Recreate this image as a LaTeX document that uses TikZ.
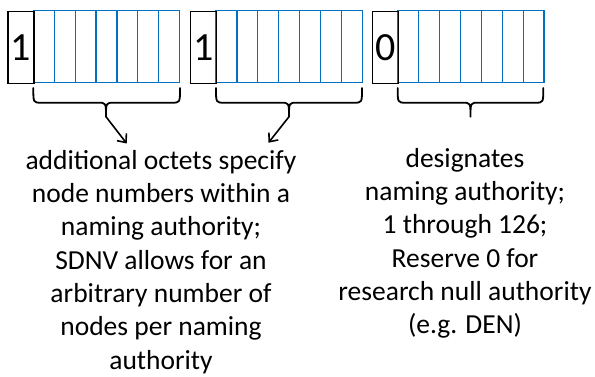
\documentclass[tikz,border=0pt]{standalone}
\usepackage{fontspec}
\setmainfont{Carlito}
\usetikzlibrary{arrows.meta}
\definecolor{cellblue}{HTML}{0070C0}
\tikzset{
  flagbox/.style={draw=black,line width=1.3pt,minimum width=26pt,minimum height=72pt,inner sep=0pt,anchor=north west,font=\fontsize{40}{42}\selectfont},
  cell/.style={draw=cellblue,line width=1.2pt},
  bracepath/.style={draw=black,line width=1.8pt,line join=round,line cap=round},
  pointer/.style={draw=black,line width=1.6pt,-{Straight Barb[length=7pt,width=12pt,line width=1.6pt]}},
  note/.style={align=center,inner sep=0pt,anchor=north,font=\fontsize{27.5}{33.3}\selectfont}
}
\newcommand{\mybrace}[4]{% x1, x2, mid, name
  \draw[bracepath] (#1,88) .. controls (#1,102.7) .. (#1+8,102.7) -- (#3-8,102.7)
     .. controls (#3,102.7) .. (#3,116.7) coordinate (#4)
     .. controls (#3,102.7) .. (#3+8,102.7) -- (#2-8,102.7)
     .. controls (#2,102.7) .. (#2,88);
}
\begin{document}
\begin{tikzpicture}[x=1pt,y=-1pt]
\useasboundingbox (0,0) rectangle (595,376);
% octet cells
\foreach \x in {33.3,190+26,371.7+26}{
  \foreach \i in {0,...,6}{
    \draw[cell] (\x+\i*20.9,10.7) rectangle (\x+\i*20.9+20.9,82.7);
  }
}
\node[flagbox] (f1) at (7.3,10.7) {1};
\node[flagbox] (f2) at (190,10.7) {1};
\node[flagbox] (f3) at (371.7,10.7) {0};
% braces
\mybrace{33.3}{180}{106}{b1}
\mybrace{216}{362}{289}{b2}
\mybrace{397.7}{543.3}{470.5}{b3}
% texts
\node[note] (t1) at (161,150) {additional octets specify\\node numbers within a\\naming authority;\\SDNV allows for an\\arbitrary number of\\nodes per naming\\authority};
\node[note] (t2) at (465,148) {designates\\naming authority;\\1 through 126;\\Reserve 0 for\\research null authority\\(e.g. DEN)};
\coordinate (a1) at (126.7,143.5);
\coordinate (a2) at (268.5,142.7);
\draw[pointer] (b1) -- (a1);
\draw[pointer] (b2) -- (a2);
\end{tikzpicture}
\end{document}
